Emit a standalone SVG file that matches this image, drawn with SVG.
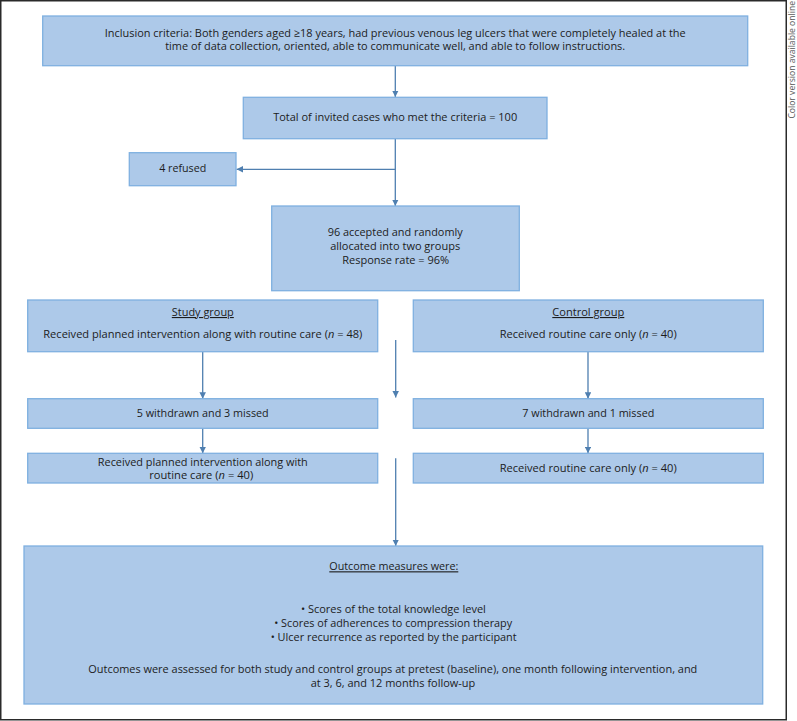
<svg xmlns="http://www.w3.org/2000/svg" width="797" height="721" viewBox="0 0 797 721">
<defs>
<style>
.box{fill:#adc9e9;stroke:#7fb0e0;stroke-width:1.3}
.t{font-family:"Open Sans","Noto Sans","Liberation Sans",sans-serif;font-size:11.1px;fill:#1c1c1c;text-anchor:middle}
.u{text-decoration:underline}
.c{stroke:#4f7fb0;stroke-width:1.3;fill:none}
.side{font-family:"Open Sans","Liberation Sans",sans-serif;font-size:8.6px;fill:#555;text-anchor:end}
</style>
<marker id="ah" viewBox="0 0 10 10" refX="10" refY="5" markerWidth="6.5" markerHeight="6.5" markerUnits="userSpaceOnUse" orient="auto">
<path d="M0,0 L10,5 L0,10 z" fill="#4f7fb0"/>
</marker>
</defs>
<rect x="0.75" y="0.75" width="785.5" height="719" fill="#fff" stroke="#2a2a2a" stroke-width="1.5"/>
<text class="side" transform="translate(795,1) rotate(-90)">Color version available online</text>

<g id="connectors">
<line class="c" x1="395.3" y1="66" x2="395.3" y2="97" marker-end="url(#ah)"/>
<line class="c" x1="395.3" y1="139" x2="395.3" y2="206" marker-end="url(#ah)"/>
<line class="c" x1="395.3" y1="169.3" x2="236.5" y2="169.3" marker-end="url(#ah)"/>
<line class="c" x1="395.7" y1="340" x2="395.7" y2="397.5" marker-end="url(#ah)"/>
<line class="c" x1="202.7" y1="352" x2="202.7" y2="398.7" marker-end="url(#ah)"/>
<line class="c" x1="202.7" y1="428.3" x2="202.7" y2="453.3" marker-end="url(#ah)"/>
<line class="c" x1="588" y1="352" x2="588" y2="398.7" marker-end="url(#ah)"/>
<line class="c" x1="588" y1="428.3" x2="588" y2="453.3" marker-end="url(#ah)"/>
<line class="c" x1="395.7" y1="458.3" x2="395.7" y2="546" marker-end="url(#ah)"/>
</g>

<g id="inclusion">
<rect class="box" x="42.7" y="16" width="705" height="49.7"/>
<text class="t" x="395.2" y="36.7" textLength="581" lengthAdjust="spacingAndGlyphs">Inclusion criteria: Both genders aged ≥18 years, had previous venous leg ulcers that were completely healed at the</text>
<text class="t" x="395.2" y="50.4" textLength="460" lengthAdjust="spacingAndGlyphs">time of data collection, oriented, able to communicate well, and able to follow instructions.</text>
</g>

<g id="invited">
<rect class="box" x="243.3" y="97.3" width="303.7" height="41.4"/>
<text class="t" x="395.2" y="120.7" textLength="244" lengthAdjust="spacingAndGlyphs">Total of invited cases who met the criteria = 100</text>
</g>

<g id="refused">
<rect class="box" x="129.3" y="152.7" width="106.7" height="33"/>
<text class="t" x="182.7" y="171.7" textLength="47" lengthAdjust="spacingAndGlyphs">4 refused</text>
</g>

<g id="accepted">
<rect class="box" x="271.7" y="206" width="247.6" height="84.7"/>
<text class="t" x="395.2" y="236" textLength="135" lengthAdjust="spacingAndGlyphs">96 accepted and randomly</text>
<text class="t" x="395.2" y="250" textLength="130" lengthAdjust="spacingAndGlyphs">allocated into two groups</text>
<text class="t" x="395.7" y="264" textLength="107" lengthAdjust="spacingAndGlyphs">Response rate = 96%</text>
</g>

<g id="study">
<rect class="box" x="27.7" y="300" width="350" height="51.7"/>
<text class="t u" x="202.8" y="316" textLength="62" lengthAdjust="spacingAndGlyphs">Study group</text>
<text class="t" x="202.8" y="337.7" textLength="319" lengthAdjust="spacingAndGlyphs">Received planned intervention along with routine care (<tspan font-style="italic">n</tspan> = 48)</text>
</g>

<g id="control">
<rect class="box" x="413.3" y="300" width="350" height="51.7"/>
<text class="t u" x="588.3" y="316" textLength="72" lengthAdjust="spacingAndGlyphs">Control group</text>
<text class="t" x="588.2" y="337.7" textLength="177" lengthAdjust="spacingAndGlyphs">Received routine care only (<tspan font-style="italic">n</tspan> = 40)</text>
</g>

<g id="study-withdrawn">
<rect class="box" x="27.7" y="398.7" width="350" height="29.6"/>
<text class="t" x="202.7" y="416.5" textLength="132" lengthAdjust="spacingAndGlyphs">5 withdrawn and 3 missed</text>
</g>

<g id="control-withdrawn">
<rect class="box" x="413.3" y="398.7" width="350" height="29.6"/>
<text class="t" x="588.3" y="416.5" textLength="132" lengthAdjust="spacingAndGlyphs">7 withdrawn and 1 missed</text>
</g>

<g id="study-received">
<rect class="box" x="27.7" y="453.3" width="350" height="29.7"/>
<text class="t" x="202.8" y="465.7" textLength="210" lengthAdjust="spacingAndGlyphs">Received planned intervention along with</text>
<text class="t" x="201.2" y="479.2" textLength="104" lengthAdjust="spacingAndGlyphs">routine care (<tspan font-style="italic">n</tspan> = 40)</text>
</g>

<g id="control-received">
<rect class="box" x="413.3" y="453.3" width="350" height="29.7"/>
<text class="t" x="588.2" y="472.3" textLength="177" lengthAdjust="spacingAndGlyphs">Received routine care only (<tspan font-style="italic">n</tspan> = 40)</text>
</g>

<g id="outcomes">
<rect class="box" x="24" y="546" width="738.7" height="158"/>
<text class="t u" x="393.8" y="570.3" textLength="129" lengthAdjust="spacingAndGlyphs">Outcome measures were:</text>
<text class="t" x="393.4" y="613.3" textLength="185" lengthAdjust="spacingAndGlyphs">• Scores of the total knowledge level</text>
<text class="t" x="393.2" y="627.3" textLength="238" lengthAdjust="spacingAndGlyphs">• Scores of adherences to compression therapy</text>
<text class="t" x="393.7" y="641" textLength="246" lengthAdjust="spacingAndGlyphs">• Ulcer recurrence as reported by the participant</text>
<text class="t" x="392.8" y="672.7" textLength="609" lengthAdjust="spacingAndGlyphs">Outcomes were assessed for both study and control groups at pretest (baseline), one month following intervention, and</text>
<text class="t" x="393" y="686.7" textLength="164.6" lengthAdjust="spacingAndGlyphs">at 3, 6, and 12 months follow-up</text>
</g>
</svg>
